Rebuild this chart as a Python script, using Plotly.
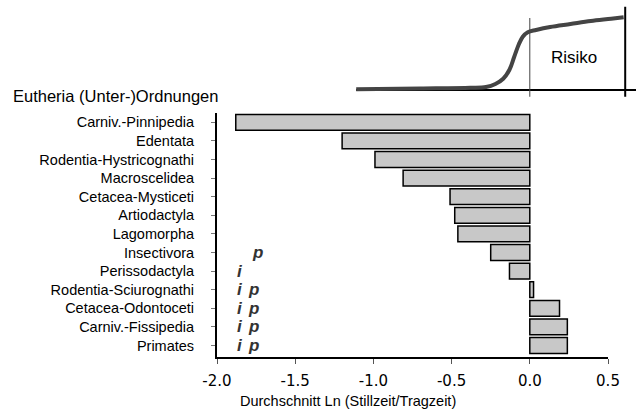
import plotly.graph_objects as go

# ---- data ----
categories = ["Carniv.-Pinnipedia", "Edentata", "Rodentia-Hystricognathi", "Macroscelidea",
              "Cetacea-Mysticeti", "Artiodactyla", "Lagomorpha", "Insectivora",
              "Perissodactyla", "Rodentia-Sciurognathi", "Cetacea-Odontoceti",
              "Carniv.-Fissipedia", "Primates"]
values = [-1.88, -1.20, -0.99, -0.81, -0.51, -0.48, -0.46, -0.25, -0.13, 0.024, 0.19, 0.24, 0.24]

i_marks = ["Perissodactyla", "Rodentia-Sciurognathi", "Cetacea-Odontoceti", "Carniv.-Fissipedia", "Primates"]
p_marks = ["Insectivora", "Rodentia-Sciurognathi", "Cetacea-Odontoceti", "Carniv.-Fissipedia", "Primates"]
i_x = -1.85
p_x = [-1.74, -1.765, -1.765, -1.765, -1.765]

x_ticks = [-2.0, -1.5, -1.0, -0.5, 0.0, 0.5]
x_tick_labels = ["-2.0", "-1.5", "-1.0", "-0.5", "0.0", "0.5"]

# inset risk curve (schematic)
curve_x = [-1.11, -0.70, -0.38, -0.28, -0.22, -0.17, -0.13, -0.10, -0.07, -0.045, -0.013,
           0.04, 0.13, 0.26, 0.39, 0.52, 0.60]
curve_y = [0.01, 0.02, 0.03, 0.04, 0.08, 0.15, 0.27, 0.44, 0.61, 0.71, 0.77,
           0.80, 0.84, 0.88, 0.92, 0.95, 0.97]
baseline_x = [-1.11, 0.68]
baseline_y = [0, 0]
thin_x = [0, 0]
thin_y = [-0.09, 0.96]
thick_x = [0.61, 0.61]
thick_y = [-0.09, 1.11]

FONT = "Liberation Sans, Arial, sans-serif"
TICKFONT = "DejaVu Sans, Verdana, sans-serif"

W, H = 642, 419
ml, mr, mt, mb = 217, 4, 5, 62
pw = W - ml - mr
ph = H - mt - mb

def xd(px):
    return (px - ml) / pw

def yd(py):
    return (H - mb - py) / ph

fig = go.Figure()

fig.add_trace(go.Bar(
    x=values, y=categories, orientation="h",
    marker=dict(color="#c8c8c8", line=dict(color="black", width=1.5)),
    xaxis="x", yaxis="y", showlegend=False))

# inset
fig.add_trace(go.Scatter(x=baseline_x, y=baseline_y, mode="lines",
                         line=dict(color="black", width=2), xaxis="x2", yaxis="y2", showlegend=False))
fig.add_trace(go.Scatter(x=thin_x, y=thin_y, mode="lines",
                         line=dict(color="#444", width=1), xaxis="x2", yaxis="y2", showlegend=False))
fig.add_trace(go.Scatter(x=thick_x, y=thick_y, mode="lines",
                         line=dict(color="black", width=2), xaxis="x2", yaxis="y2", showlegend=False))
fig.add_trace(go.Scatter(x=curve_x, y=curve_y, mode="lines",
                         line=dict(color="#444", width=4, shape="spline"),
                         xaxis="x2", yaxis="y2", showlegend=False))

mark_font = dict(family=FONT, size=17, color="#333", weight="bold", style="italic")
annotations = []
for c in i_marks:
    annotations.append(dict(x=i_x, y=c, xref="x", yref="y", text="i", showarrow=False, font=mark_font))
for c, px_ in zip(p_marks, p_x):
    annotations.append(dict(x=px_, y=c, xref="x", yref="y", text="p", showarrow=False, font=mark_font))
annotations.append(dict(x=0.28, y=0.44, xref="x2", yref="y2", text="Risiko", showarrow=False,
                        font=dict(family=FONT, size=17, color="black")))
annotations.append(dict(x=xd(11), y=yd(96), xref="paper", yref="paper", text="Eutheria (Unter-)Ordnungen",
                        showarrow=False, xanchor="left", yanchor="middle",
                        font=dict(family=FONT, size=16.5, color="black")))
annotations.append(dict(x=xd(348), y=yd(401), xref="paper", yref="paper",
                        text="Durchschnitt Ln (Stillzeit/Tragzeit)",
                        showarrow=False, xanchor="center", yanchor="middle",
                        font=dict(family=FONT, size=14.5, color="black")))

# inset x range derived from pixel mapping of main axis
main_x0, main_x1 = 217, 608
scale = (main_x1 - main_x0) / 2.5
zero_px = main_x0 + 2.0 * scale
ins_x0, ins_x1 = 355, 636

fig.update_layout(
    width=W, height=H,
    margin=dict(l=ml, r=mr, t=mt, b=mb, autoexpand=False),
    paper_bgcolor="white", plot_bgcolor="white",
    bargap=0.15,
    font=dict(family=FONT, color="black"),
    xaxis=dict(domain=[0, xd(main_x1)], range=[-2.0, 0.5], tickvals=x_ticks, ticktext=x_tick_labels,
               showline=True, linecolor="black", linewidth=2, ticks="outside", ticklen=5,
               tickcolor="#555", tickwidth=1, showgrid=False, zeroline=False, automargin=False,
               tickfont=dict(family=TICKFONT, size=15, color="black"), ticklabelstandoff=4),
    yaxis=dict(domain=[0, yd(113)], type="category", autorange="reversed",
               showline=True, linecolor="black", linewidth=2, ticks="outside", ticklen=4,
               tickcolor="#777", tickwidth=1, showgrid=False, zeroline=False, automargin=False,
               tickfont=dict(family=FONT, size=14.5, color="black"), ticklabelstandoff=14),
    xaxis2=dict(domain=[xd(ins_x0), xd(ins_x1)],
                range=[(ins_x0 - zero_px) / scale, (ins_x1 - zero_px) / scale],
                visible=False, anchor="y2"),
    yaxis2=dict(domain=[yd(97), 1.0], range=[(90 - 97) / 75, (90 - 5) / 75],
                visible=False, anchor="x2"),
    annotations=annotations,
)

fig.write_html("out.html", config={"displayModeBar": False},
               post_script="document.body.style.margin='0';")
